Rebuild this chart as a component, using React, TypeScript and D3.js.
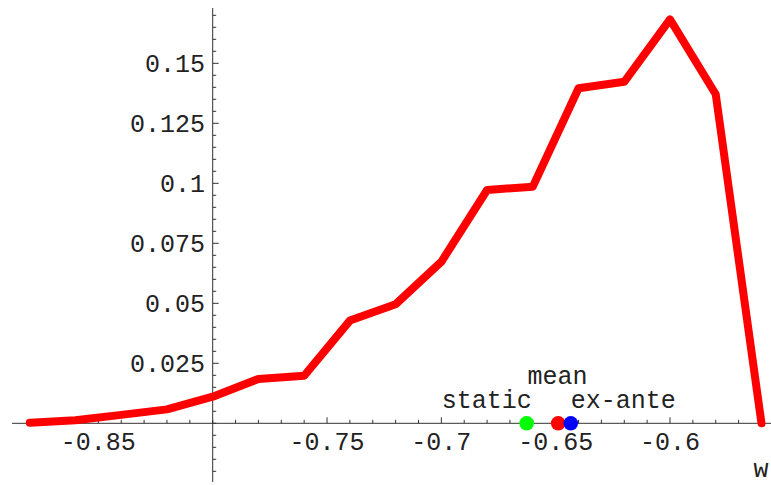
import React from "react";
import * as d3 from "d3";

const wValues = [-0.88, -0.86, -0.84, -0.82, -0.8, -0.78, -0.76, -0.74, -0.72, -0.7, -0.68, -0.66, -0.64, -0.62, -0.6, -0.58, -0.56];
const density = [0.0002, 0.0013, 0.0035, 0.0058, 0.0111, 0.0185, 0.0198, 0.0428, 0.0496, 0.0673, 0.0972, 0.0986, 0.1396, 0.1423, 0.1683, 0.1371, 0.0];

const xMajorTicks = [-0.85, -0.75, -0.7, -0.65, -0.6];
const xTickLabels = ["-0.85", "-0.75", "-0.7", "-0.65", "-0.6"];
const yMajorTicks = [0.025, 0.05, 0.075, 0.1, 0.125, 0.15];
const yTickLabels = ["0.025", "0.05", "0.075", "0.1", "0.125", "0.15"];

const markerNames = ["static", "mean", "ex-ante"];
const markerW = [-0.6627, -0.6489, -0.6434];
const markerColors = ["#00ff00", "#ff0000", "#0000ff"];

export default function App() {
  const W = 771, H = 485;
  const x = d3.scaleLinear().domain([-0.8, -0.6]).range([212.7, 670]);
  const y = d3.scaleLinear().domain([0, 0.15]).range([423.3, 63.3]);
  const x0 = x(-0.8);
  const y0 = y(0);
  const font = "'Liberation Mono', 'Courier New', monospace";
  const textColor = "#222";

  const xMinor = d3.range(-89, -55).map((i) => i / 100).filter((v) => x(v) >= 12 && x(v) <= W);
  const yMinor = d3.range(-4, 35).map((i) => i * 0.005).filter((v) => y(v) >= 8 && y(v) <= 482);

  const line = d3.line<number>().x((_, i) => x(wValues[i])).y((d) => y(d));

  const isMajorX = (v: number) => xMajorTicks.some((m) => Math.abs(m - v) < 1e-6);
  const isMajorY = (v: number) => yMajorTicks.some((m) => Math.abs(m - v) < 1e-6);

  const labelPos = [
    { dx: -40, dy: -15 },
    { dx: -0.6, dy: -39 },
    { dx: 52.6, dy: -15 },
  ];

  return (
    <svg width={W} height={H} style={{ position: "absolute", left: 0, top: 0, background: "#fff" }}>
      {/* x axis */}
      <line x1={12} x2={W} y1={y0} y2={y0} stroke="#333" strokeWidth={1} />
      {xMinor.map((v, i) => (
        <line key={"xt" + i} x1={x(v)} x2={x(v)} y1={y0} y2={y0 - (isMajorX(v) ? 6 : 3.5)} stroke="#333" strokeWidth={1} />
      ))}
      {xMajorTicks.map((v, i) => (
        <text key={"xl" + i} x={x(v)} y={449.5} textAnchor="middle" fontFamily={font} fontSize={25} fill={textColor}>
          {xTickLabels[i]}
        </text>
      ))}
      {/* y axis */}
      <line x1={x0} x2={x0} y1={8} y2={482} stroke="#333" strokeWidth={1} />
      {yMinor.map((v, i) => (
        <line key={"yt" + i} x1={x0} x2={x0 + (isMajorY(v) ? 6 : 3.5)} y1={y(v)} y2={y(v)} stroke="#333" strokeWidth={1} />
      ))}
      {yMajorTicks.map((v, i) => (
        <text key={"yl" + i} x={205} y={y(v) + 9} textAnchor="end" fontFamily={font} fontSize={25} fill={textColor}>
          {yTickLabels[i]}
        </text>
      ))}
      <text x={761} y={477} textAnchor="middle" fontFamily={font} fontSize={25} fill={textColor}>w</text>
      {/* curve */}
      <path d={line(density) || ""} fill="none" stroke="#ff0000" strokeWidth={8} strokeLinejoin="round" strokeLinecap="round" />
      {/* markers */}
      {markerW.map((v, i) => (
        <circle key={"m" + i} cx={x(v)} cy={y0} r={7.3} fill={markerColors[i]} />
      ))}
      {markerNames.map((n, i) => (
        <text key={"mn" + i} x={x(markerW[i]) + labelPos[i].dx} y={y0 + labelPos[i].dy} textAnchor="middle" fontFamily={font} fontSize={25} fill={textColor}>
          {n}
        </text>
      ))}
    </svg>
  );
}
